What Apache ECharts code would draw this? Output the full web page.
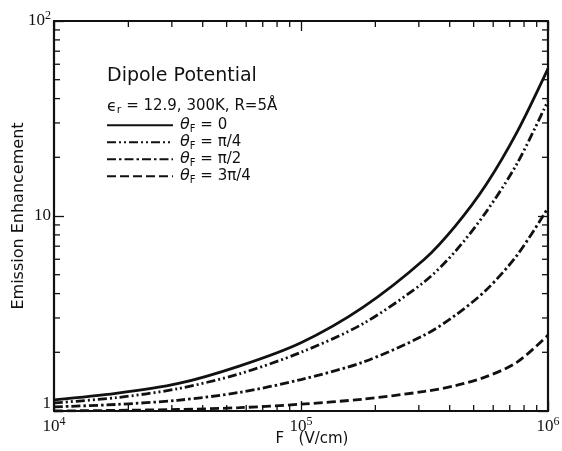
<!doctype html>
<html><head><meta charset="utf-8" />
<style>
  html,body,#app{margin:0;padding:0;width:562px;height:451px;background:#ffffff}
</style>
</head><body><div id="app"></div>
<script src="https://cdn.jsdelivr.net/npm/echarts@6/dist/echarts.min.js"></script>
<script>
// field F (V/cm) sample points
const fieldF = [1e4, 1.78e4, 3.16e4, 5.62e4, 1e5, 1.78e5, 3.16e5, 4.22e5, 5.62e5, 7.5e5, 1e6];
// emission enhancement
const theta0   = [1.14, 1.23, 1.38, 1.70, 2.24, 3.4, 6.0, 8.9, 14.5, 27, 57];
const thetaQ   = [1.10, 1.17, 1.30, 1.55, 2.0, 2.8, 4.6, 6.6, 10.5, 18.6, 39];
const thetaH   = [1.05, 1.08, 1.135, 1.245, 1.45, 1.78, 2.45, 3.1, 4.17, 6.3, 11];
const theta3Q  = [1.00, 1.007, 1.018, 1.04, 1.084, 1.15, 1.26, 1.35, 1.5, 1.78, 2.45];
const seriesNames = ['t0', 'tq', 'th', 't3q'];
const seriesLabels = ['0', 'π/4', 'π/2', '3π/4'];
// minor tick values
const xMinor = [2e4,3e4,4e4,5e4,6e4,7e4,8e4,9e4,2e5,3e5,4e5,5e5,6e5,7e5,8e5,9e5];
const yMinor = [2,3,4,5,6,7,8,9,20,30,40,50,60,70,80,90];

(function(){
  const chart = echarts.init(document.getElementById('app'));
  const ink = '#111';
  const pts = ys => fieldF.map((f,i)=>[f, ys[i]]);
  const sup = {fontSize: 12, verticalAlign: 'bottom', padding: [0,0,10,0], fontFamily: 'Liberation Serif', color: ink};
  const tickLbl = {fontSize: 17, fontFamily: 'Liberation Serif', color: ink};
  const oneLbl = Object.assign({}, tickLbl, { padding:[0,0,14,0] });
  const expFmt = v => {
    const e = Math.round(Math.log10(v));
    if (e === 0) return '{one|1}';
    if (e === 1) return '{n|10}';
    return '{n|10}{s|' + e + '}';
  };
  const lineW = 2.8;
  const mk = (name, data, type) => ({
    name, type:'line', data: pts(data), symbol:'none', smooth: 0.3,
    lineStyle:{ color: ink, width: lineW, type }, itemStyle:{ color: ink }
  });
  const tickSeries = (vals, isX) => ({
    type:'custom', silent:true, clip:false, legendHoverLink:false,
    data: vals.map(v => isX ? [v, 1] : [1e4, v]),
    renderItem: (params, api) => {
      let a, b, d;
      if (isX) { const v = api.value(0); a = api.coord([v, 1]); b = api.coord([v, 100]); d = [0, -6]; }
      else { const v = api.value(1); a = api.coord([1e4, v]); b = api.coord([1e6, v]); d = [6, 0]; }
      const st = { stroke: ink, lineWidth: 1.3 };
      return { type:'group', children:[
        { type:'line', shape:{ x1:a[0], y1:a[1], x2:a[0]+d[0], y2:a[1]+d[1] }, style: st },
        { type:'line', shape:{ x1:b[0], y1:b[1], x2:b[0]-d[0], y2:b[1]-d[1] }, style: st }
      ]};
    }
  });
  const axCommon = {
    type:'log', logBase:10,
    axisLine:{ show:true, onZero:false, lineStyle:{ color: ink, width: 2.2 } },
    axisTick:{ show:true, inside:true, length:10, lineStyle:{ color: ink, width:1.3 } },
    splitLine:{ show:false }, minorTick:{ show:false }
  };
  const txt = (size, extra) => Object.assign({ fontFamily:'DejaVu Sans', fontSize:size, fontWeight:'normal', color: ink }, extra || {});
  const option = {
    backgroundColor:'#ffffff',
    animation:false,
    grid:{ left:54, right:14, top:21, bottom:40, containLabel:false, outerBoundsMode:'none' },
    title:[
      { text:'Dipole Potential', left:102, top:62, textStyle: txt(19) },
      { text:'{e|ϵ}{r|r}{t| = 12.9, 300K, R=5Å}', left:102, top:92,
        textStyle:{ fontWeight:'normal', rich:{
          e: txt(16),
          r: txt(11, { verticalAlign:'top', padding:[8,0,0,0] }),
          t: txt(15)
        } } }
    ],
    legend:{
      orient:'vertical', left:106, top:117, itemWidth:66, itemHeight:12, itemGap:0, padding:0,
      data: seriesNames,
      itemStyle:{ color:'transparent', borderColor:'transparent', borderWidth:0 },
      formatter: n => '{th|θ}{f|F}{t| = ' + seriesLabels[seriesNames.indexOf(n)] + '}',
      textStyle:{ lineHeight:16.5, rich:{
        th: txt(16, { fontStyle:'italic', lineHeight:16.5, padding:[0,0,0,2] }),
        f: txt(10, { verticalAlign:'top', padding:[7,0,0,0], lineHeight:16.5 }),
        t: txt(15, { lineHeight:16.5 })
      } }
    },
    xAxis:[
      Object.assign({}, axCommon, { min:1e4, max:1e6, position:'bottom',
        name:'F   (V/cm)', nameLocation:'middle', nameGap:21, nameMoveOverlap:false,
        nameTextStyle: txt(15, { padding:[0,0,0,22] }),
        axisLabel:{ formatter: expFmt, margin:5, rich:{ n: tickLbl, s: sup } } }),
      Object.assign({}, axCommon, { min:1e4, max:1e6, position:'top', axisLabel:{ show:false } })
    ],
    yAxis:[
      Object.assign({}, axCommon, { min:1, max:100, position:'left',
        name:'Emission Enhancement', nameLocation:'middle', nameGap:27, nameRotate:90, nameMoveOverlap:false,
        nameTextStyle: txt(16),
        axisLabel:{ formatter: expFmt, margin:3, rich:{ n: tickLbl, s: sup, one: oneLbl } } }),
      Object.assign({}, axCommon, { min:1, max:100, position:'right', axisLabel:{ show:false } })
    ],
    series:[
      mk('t0', theta0, 'solid'),
      mk('tq', thetaQ, [9,3,2,3,2,3]),
      mk('th', thetaH, [9,3,2.5,3]),
      mk('t3q', theta3Q, [9,4]),
      tickSeries(xMinor, true),
      tickSeries(yMinor, false)
    ]
  };
  chart.setOption(option);
  window.chartReady = true;
})();
</script></body></html>
